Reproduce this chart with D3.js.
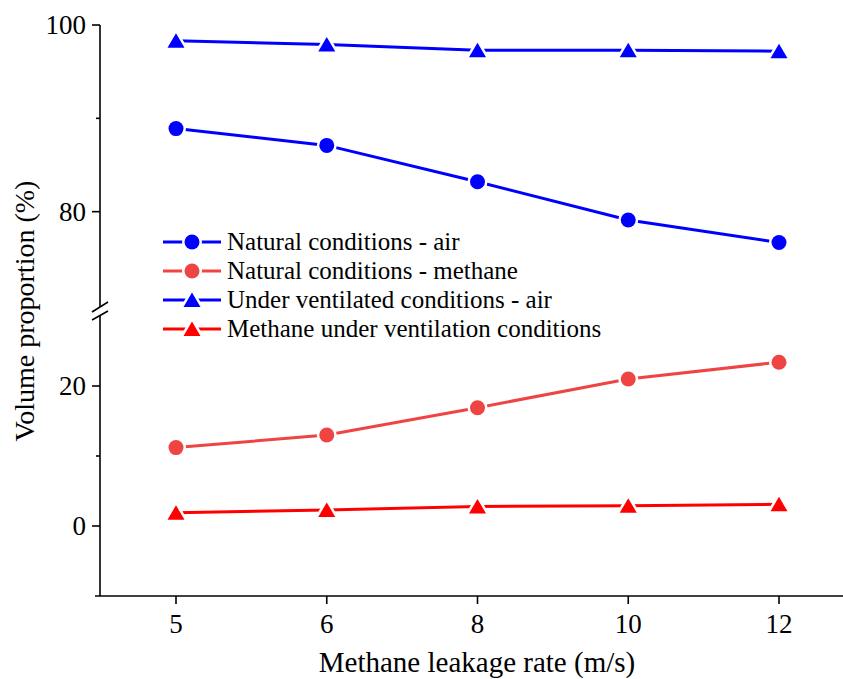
<!DOCTYPE html>
<html>
<head>
    <meta charset="utf-8">
    <title>Volume proportion</title>
    <script src="https://cdn.jsdelivr.net/npm/d3@7/dist/d3.min.js"></script>
    <style>
        body { margin: 0; background: #fff; }
        svg { display: block; }
        text { font-family: "Liberation Serif", "Times New Roman", serif; fill: #000; }
        .axis path, .axis line { stroke: #000; stroke-width: 1.6px; }
    </style>
</head>
<body>
<svg id="chart" width="843" height="679"></svg>
<script>
    // data
    var rates = ["5", "6", "8", "10", "12"];
    var naturalAir = [88.9, 87.1, 83.2, 79.1, 76.7];
    var naturalMethane = [11.2, 13.0, 16.9, 21.0, 23.4];
    var ventAir = [98.3, 97.9, 97.3, 97.3, 97.2];
    var ventMethane = [1.9, 2.3, 2.8, 2.9, 3.1];

    var upperTicks = [80, 100], upperMinor = [90];
    var lowerTicks = [0, 20], lowerMinor = [10];

    var seriesNames = [
        "Natural conditions - air",
        "Natural conditions - methane",
        "Under ventilated conditions - air",
        "Methane under ventilation conditions"
    ];

    var svg = d3.select("#chart");

    var axisX = 100, axisBottom = 596;

    var x = d3.scalePoint().domain(rates).range([176, 779]);
    // broken y axis: two segments
    var yUp = d3.scaleLinear().domain([70, 100]).range([305, 25]);
    var yLow = d3.scaleLinear().domain([-10, 30]).range([596, 316]);

    var series = [
        { name: seriesNames[0], values: naturalAir, y: yUp, color: "#0000ff", shape: "circle" },
        { name: seriesNames[1], values: naturalMethane, y: yLow, color: "#ef4444", shape: "circle" },
        { name: seriesNames[2], values: ventAir, y: yUp, color: "#0000ff", shape: "triangle" },
        { name: seriesNames[3], values: ventMethane, y: yLow, color: "#ff0000", shape: "triangle" }
    ];

    // x axis
    var gx = svg.append("g").attr("class", "axis").attr("transform", "translate(0," + axisBottom + ")");
    gx.append("line").attr("x1", 95).attr("x2", 843).attr("y1", 0).attr("y2", 0);
    gx.selectAll(".tk").data(rates).enter().append("line")
        .attr("x1", function (d) { return x(d); }).attr("x2", function (d) { return x(d); })
        .attr("y1", 0).attr("y2", 8);
    gx.selectAll("text").data(rates).enter().append("text")
        .attr("x", function (d) { return x(d); }).attr("y", 37)
        .attr("text-anchor", "middle").style("font-size", "27px")
        .text(function (d) { return d; });

    // y axis segments
    function ySegment(scale, y1, y2, major, minor) {
        var g = svg.append("g").attr("class", "axis");
        g.append("line").attr("x1", axisX).attr("x2", axisX).attr("y1", y1).attr("y2", y2);
        g.selectAll(".mj").data(major).enter().append("line")
            .attr("x1", axisX - 8).attr("x2", axisX)
            .attr("y1", function (d) { return scale(d); }).attr("y2", function (d) { return scale(d); });
        g.selectAll(".mn").data(minor).enter().append("line")
            .attr("x1", axisX - 4).attr("x2", axisX)
            .attr("y1", function (d) { return scale(d); }).attr("y2", function (d) { return scale(d); });
        g.selectAll("text").data(major).enter().append("text")
            .attr("x", axisX - 14).attr("y", function (d) { return scale(d); })
            .attr("dy", "0.34em").attr("text-anchor", "end").style("font-size", "27px")
            .text(function (d) { return d; });
    }
    ySegment(yUp, 25, 307, upperTicks, upperMinor);
    ySegment(yLow, 316, axisBottom, lowerTicks, lowerMinor);

    // break marks
    svg.append("line").attr("x1", 92).attr("y1", 312).attr("x2", 108).attr("y2", 302)
        .attr("stroke", "#000").attr("stroke-width", 1.6);
    svg.append("line").attr("x1", 92).attr("y1", 320).attr("x2", 108).attr("y2", 311)
        .attr("stroke", "#000").attr("stroke-width", 1.6);

    // titles
    svg.append("text").attr("x", 477).attr("y", 672).attr("text-anchor", "middle")
        .style("font-size", "29px").text("Methane leakage rate (m/s)");
    svg.append("text").attr("transform", "translate(34,311) rotate(-90)")
        .attr("text-anchor", "middle").style("font-size", "28px").text("Volume proportion (%)");

    function marker(g, shape, color, cx, cy) {
        var m;
        if (shape === "circle") {
            m = g.append("circle").attr("cx", cx).attr("cy", cy).attr("r", 7.5);
        } else {
            m = g.append("path").attr("d", "M" + cx + "," + (cy - 7.5) + "L" + (cx + 8.5) + "," + (cy + 7) +
                "L" + (cx - 8.5) + "," + (cy + 7) + "Z");
        }
        m.attr("fill", color).attr("stroke", "#fff").attr("stroke-width", 5)
            .style("paint-order", "stroke");
    }

    // lines and markers
    var line = d3.line();
    series.forEach(function (s) {
        var pts = s.values.map(function (v, i) { return [x(rates[i]), s.y(v)]; });
        svg.append("path").attr("d", line(pts)).attr("fill", "none")
            .attr("stroke", s.color).attr("stroke-width", 3);
    });
    series.forEach(function (s) {
        var g = svg.append("g");
        s.values.forEach(function (v, i) { marker(g, s.shape, s.color, x(rates[i]), s.y(v)); });
    });

    // legend
    var lg = svg.append("g").attr("transform", "translate(163,242)");
    series.forEach(function (s, i) {
        var row = lg.append("g").attr("transform", "translate(0," + (i * 29) + ")");
        row.append("line").attr("x1", 0).attr("x2", 58).attr("y1", 0).attr("y2", 0)
            .attr("stroke", s.color).attr("stroke-width", 3);
        marker(row, s.shape, s.color, 29, 0);
        row.append("text").attr("x", 64).attr("y", 0).attr("dy", "0.33em")
            .style("font-size", "25px").text(s.name);
    });
</script>
</body>
</html>
